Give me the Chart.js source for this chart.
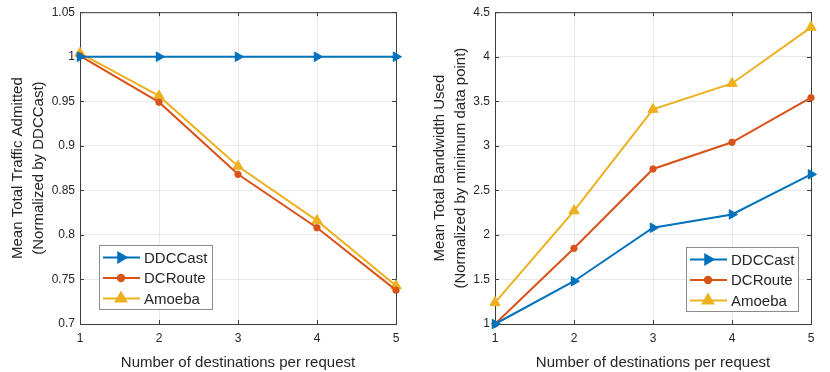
<!DOCTYPE html>
<html>
<head>
<meta charset="utf-8">
<script src="https://cdn.jsdelivr.net/npm/chart.js"></script>
<style>
  html, body { margin: 0; padding: 0; background: #fff; }
  .panel { position: absolute; top: 0; width: 415px; height: 372px; }
</style>
</head>
<body>
<div class="panel" style="left:0"><canvas id="left" width="415" height="372"></canvas></div>
<div class="panel" style="left:415px"><canvas id="right" width="415" height="372"></canvas></div>
<script>
// x values: destinations per request
const destinations = [1, 2, 3, 4, 5];

// left: mean total traffic admitted (normalized by DDCCast)
const admittedDDCCast = [1, 1, 1, 1, 1];
const admittedDCRoute = [1.001, 0.949, 0.868, 0.808, 0.738];
const admittedAmoeba = [1.004, 0.956, 0.877, 0.816, 0.743];

// right: mean total bandwidth used (normalized by minimum data point)
const bandwidthDDCCast = [1.0, 1.48, 2.08, 2.23, 2.68];
const bandwidthDCRoute = [1.0, 1.85, 2.74, 3.04, 3.54];
const bandwidthAmoeba = [1.24, 2.27, 3.41, 3.70, 4.33];

const seriesNames = ['DDCCast', 'DCRoute', 'Amoeba'];
const seriesColors = ['#0072BD', '#D95319', '#EDB120'];

const FONT = 'Arial, "Liberation Sans", Helvetica, sans-serif';
const TEXT = '#262626';

// marker look per series
const markerStyle = [
    { pointStyle: 'triangle', rotation: 90, radius: 5.5 },
    { pointStyle: 'circle', rotation: 0, radius: 3.2 },
    { pointStyle: 'triangle', rotation: 0, radius: 6 },
];

function makeDataset(idx, values) {
    const m = markerStyle[idx];
    return {
        label: seriesNames[idx],
        data: destinations.map((x, i) => ({ x: x, y: values[i] })),
        borderColor: seriesColors[idx],
        backgroundColor: seriesColors[idx],
        pointBackgroundColor: seriesColors[idx],
        pointBorderColor: seriesColors[idx],
        borderWidth: 2,
        pointStyle: m.pointStyle,
        pointRotation: m.rotation,
        pointRadius: m.radius,
        pointBorderWidth: 1,
        tension: 0,
        clip: false,
    };
}

// matlab style tick text: 1, 0.95, 4.5 ...
const trimTick = (value) => String(Number(value.toFixed(2)));

// box around the axes + inward ticks, like matlab
const boxPlugin = {
    id: 'box',
    beforeDatasetsDraw(chart) {
        const { ctx, chartArea: a, scales } = chart;
        ctx.save();
        ctx.strokeStyle = '#3c3c3c';
        ctx.lineWidth = 1;
        ctx.strokeRect(a.left + 0.5, a.top + 0.5, a.right - a.left, a.bottom - a.top);
        ctx.beginPath();
        scales.x.ticks.forEach((t) => {
            const px = Math.round(scales.x.getPixelForValue(t.value)) + 0.5;
            ctx.moveTo(px, a.bottom); ctx.lineTo(px, a.bottom - 4);
            ctx.moveTo(px, a.top); ctx.lineTo(px, a.top + 4);
        });
        scales.y.ticks.forEach((t) => {
            const py = Math.round(scales.y.getPixelForValue(t.value)) + 0.5;
            ctx.moveTo(a.left, py); ctx.lineTo(a.left + 4, py);
            ctx.moveTo(a.right, py); ctx.lineTo(a.right - 4, py);
        });
        ctx.stroke();
        ctx.restore();
    },
};

// legend box placed inside the axes
const boxLegend = {
    id: 'boxLegend',
    afterDraw(chart, args, opts) {
        const { ctx } = chart;
        const x = opts.x, y = opts.y, w = opts.w, h = opts.h;
        ctx.save();
        ctx.fillStyle = '#fff';
        ctx.fillRect(x, y, w, h);
        ctx.strokeStyle = '#8c8c8c';
        ctx.lineWidth = 1;
        ctx.strokeRect(x + 0.5, y + 0.5, w, h);
        const rowH = 20.5;
        chart.data.datasets.forEach((ds, i) => {
            const cy = y + 12.5 + i * rowH;
            ctx.strokeStyle = ds.borderColor;
            ctx.lineWidth = 2;
            ctx.beginPath();
            ctx.moveTo(x + 4, cy);
            ctx.lineTo(x + 41, cy);
            ctx.stroke();
            ctx.fillStyle = ds.borderColor;
            Chart.helpers.drawPoint(ctx, {
                pointStyle: ds.pointStyle,
                rotation: ds.pointRotation,
                radius: ds.pointRadius,
                borderWidth: 1,
            }, x + 22, cy);
            ctx.fillStyle = TEXT;
            ctx.font = '15px ' + FONT;
            ctx.textBaseline = 'middle';
            ctx.fillText(ds.label, x + 45, cy + 1);
        });
        ctx.restore();
    },
};

function makeChart(id, values, yMin, yMax, yStep, yTitle, titleShift, legendBox) {
    return new Chart(document.getElementById(id), {
        type: 'line',
        data: {
            datasets: values.map((v, i) => makeDataset(i, v)),
        },
        options: {
            responsive: false,
            animation: false,
            devicePixelRatio: 1,
            layout: { padding: { top: 12, right: 19, left: 0, bottom: 0 } },
            plugins: {
                legend: { display: false },
                tooltip: { enabled: false },
                boxLegend: legendBox,
            },
            scales: {
                x: {
                    type: 'linear',
                    min: 1, max: 5,
                    ticks: { stepSize: 1, color: TEXT, font: { family: FONT, size: 12 }, padding: 7, callback: trimTick },
                    grid: { color: 'rgba(0,0,0,0.085)', drawTicks: false },
                    border: { display: false },
                    title: {
                        display: true,
                        text: 'Number of destinations per request',
                        color: TEXT,
                        font: { family: FONT, size: 15 },
                        padding: { top: 0, bottom: 0 },
                    },
                    afterFit(scale) { scale.height = 48; },
                },
                y: {
                    min: yMin, max: yMax,
                    ticks: { stepSize: yStep, color: TEXT, font: { family: FONT, size: 12 }, padding: 5, callback: trimTick },
                    grid: { color: 'rgba(0,0,0,0.085)', drawTicks: false },
                    border: { display: false },
                    title: {
                        display: true,
                        text: yTitle,
                        color: TEXT,
                        font: { family: FONT, size: 15, lineHeight: 1.35 },
                        padding: { top: titleShift, bottom: 0 },
                    },
                    afterFit(scale) { scale.width = 80; },
                },
            },
        },
        plugins: [boxPlugin, boxLegend],
    });
}

makeChart('left',
    [admittedDDCCast, admittedDCRoute, admittedAmoeba],
    0.7, 1.05, 0.05,
    ['Mean Total Traffic Admitted', '(Normalized by DDCCast)'],
    8,
    { x: 99, y: 245, w: 113, h: 64 });

makeChart('right',
    [bandwidthDDCCast, bandwidthDCRoute, bandwidthAmoeba],
    1, 4.5, 0.5,
    ['Mean Total Bandwidth Used', '(Normalized by minimum data point)'],
    15,
    { x: 271, y: 247, w: 112, h: 64 });
</script>
</body>
</html>
